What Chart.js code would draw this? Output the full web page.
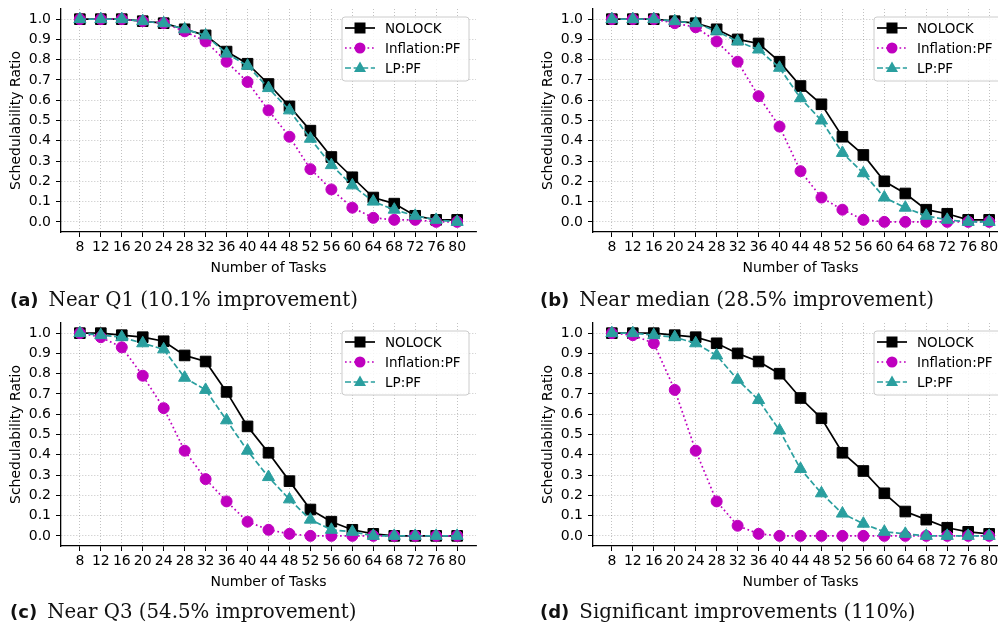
<!DOCTYPE html>
<html lang="en">
<head>
    <meta charset="UTF-8">
    <title>Schedulability Ratio</title>
    <script src="https://cdn.jsdelivr.net/npm/chart.js"></script>
    <style>
        body {
            margin: 0;
            padding: 0;
            width: 998px;
            height: 631px;
            overflow: hidden;
            background: #fff;
            position: relative;
        }
        .panel {
            position: absolute;
            width: 500px;
            height: 290px;
        }
        .caption {
            position: absolute;
            font-family: "DejaVu Serif", serif;
            font-size: 19.8px;
            color: #111;
            white-space: nowrap;
            line-height: 24px;
        }
        .caption b {
            font-family: "DejaVu Sans", sans-serif;
            font-size: 18px;
            font-weight: bold;
            margin-right: 10px;
        }
    </style>
</head>
<body>
    <canvas id="chartA" class="panel" width="500" height="290" style="left:0;top:0"></canvas>
    <canvas id="chartB" class="panel" width="500" height="290" style="left:532px;top:0"></canvas>
    <canvas id="chartC" class="panel" width="500" height="290" style="left:0;top:314px"></canvas>
    <canvas id="chartD" class="panel" width="500" height="290" style="left:532px;top:314px"></canvas>

    <div class="caption" style="left:10px;top:288px"><b>(a)</b>Near Q1 (10.1% improvement)</div>
    <div class="caption" style="left:540px;top:288px"><b>(b)</b>Near median (28.5% improvement)</div>
    <div class="caption" style="left:10px;top:600px"><b>(c)</b>Near Q3 (54.5% improvement)</div>
    <div class="caption" style="left:540px;top:600px"><b>(d)</b>Significant improvements (110%)</div>

<script>
const taskCounts = [8, 12, 16, 20, 24, 28, 32, 36, 40, 44, 48, 52, 56, 60, 64, 68, 72, 76, 80];
const yTicks = [0, 0.1, 0.2, 0.3, 0.4, 0.5, 0.6, 0.7, 0.8, 0.9, 1.0];
const seriesNames = ['NOLOCK', 'Inflation:PF', 'LP:PF'];

// (a) near Q1
const nolockA    = [1.0, 1.0, 1.0, 0.99, 0.98, 0.95, 0.92, 0.84, 0.78, 0.68, 0.57, 0.45, 0.32, 0.22, 0.12, 0.09, 0.03, 0.01, 0.01];
const inflationA = [1.0, 1.0, 1.0, 0.99, 0.98, 0.94, 0.89, 0.79, 0.69, 0.55, 0.42, 0.26, 0.16, 0.07, 0.02, 0.01, 0.01, 0.0, 0.0];
const lpA        = [1.0, 1.0, 1.0, 0.99, 0.98, 0.95, 0.92, 0.83, 0.77, 0.66, 0.55, 0.41, 0.28, 0.18, 0.10, 0.06, 0.03, 0.01, 0.0];

// (b) near median
const nolockB    = [1.0, 1.0, 1.0, 0.99, 0.98, 0.95, 0.90, 0.88, 0.79, 0.67, 0.58, 0.42, 0.33, 0.20, 0.14, 0.06, 0.04, 0.01, 0.01];
const inflationB = [1.0, 1.0, 1.0, 0.98, 0.96, 0.89, 0.79, 0.62, 0.47, 0.25, 0.12, 0.06, 0.01, 0.0, 0.0, 0.0, 0.0, 0.0, 0.0];
const lpB        = [1.0, 1.0, 1.0, 0.99, 0.98, 0.94, 0.89, 0.85, 0.76, 0.61, 0.50, 0.34, 0.24, 0.12, 0.07, 0.03, 0.01, 0.0, 0.0];

// (c) near Q3
const nolockC    = [1.0, 1.0, 0.99, 0.98, 0.96, 0.89, 0.86, 0.71, 0.54, 0.41, 0.27, 0.13, 0.07, 0.03, 0.01, 0.0, 0.0, 0.0, 0.0];
const inflationC = [1.0, 0.98, 0.93, 0.79, 0.63, 0.42, 0.28, 0.17, 0.07, 0.03, 0.01, 0.0, 0.0, 0.0, 0.0, 0.0, 0.0, 0.0, 0.0];
const lpC        = [1.0, 0.99, 0.98, 0.95, 0.92, 0.78, 0.72, 0.57, 0.42, 0.29, 0.18, 0.08, 0.03, 0.02, 0.0, 0.0, 0.0, 0.0, 0.0];

// (d) significant improvements
const nolockD    = [1.0, 1.0, 1.0, 0.99, 0.98, 0.95, 0.90, 0.86, 0.80, 0.68, 0.58, 0.41, 0.32, 0.21, 0.12, 0.08, 0.04, 0.02, 0.01];
const inflationD = [1.0, 0.99, 0.95, 0.72, 0.42, 0.17, 0.05, 0.01, 0.0, 0.0, 0.0, 0.0, 0.0, 0.0, 0.0, 0.0, 0.0, 0.0, 0.0];
const lpD        = [1.0, 1.0, 0.99, 0.98, 0.95, 0.89, 0.77, 0.67, 0.52, 0.33, 0.21, 0.11, 0.06, 0.02, 0.01, 0.0, 0.0, 0.0, 0.0];

const FONT = "'DejaVu Sans', sans-serif";
const TEAL = '#2a9f9f';
const MAGENTA = '#bf00bf';

function toPoints(values) {
  return taskCounts.map((x, i) => ({ x: x, y: values[i] }));
}

// matplotlib style legend box in the upper right corner
const legendBox = {
  id: 'legendBox',
  afterDatasetsDraw(chart) {
    const { ctx, chartArea } = chart;
    const w = 127, h = 64;
    const bx = chartArea.right - 7 - w;
    const by = chartArea.top + 8;
    ctx.save();
    ctx.beginPath();
    ctx.roundRect(bx, by, w, h, 3);
    ctx.fillStyle = 'rgba(255,255,255,0.85)';
    ctx.fill();
    ctx.strokeStyle = '#cccccc';
    ctx.lineWidth = 1;
    ctx.stroke();

    chart.data.datasets.forEach((ds, i) => {
      const ly = by + 11 + i * 20;
      ctx.beginPath();
      ctx.setLineDash(ds.borderDash || []);
      ctx.strokeStyle = ds.borderColor;
      ctx.lineWidth = ds.borderWidth;
      ctx.moveTo(bx + 3, ly);
      ctx.lineTo(bx + 33, ly);
      ctx.stroke();
      ctx.setLineDash([]);

      const mx = bx + 18;
      ctx.fillStyle = ds.pointBackgroundColor;
      ctx.beginPath();
      if (ds.pointStyle === 'rect') {
        ctx.rect(mx - 5.5, ly - 5.5, 11, 11);
      } else if (ds.pointStyle === 'circle') {
        ctx.arc(mx, ly, 5.5, 0, Math.PI * 2);
      } else {
        ctx.moveTo(mx, ly - 6.5);
        ctx.lineTo(mx + 6, ly + 4);
        ctx.lineTo(mx - 6, ly + 4);
        ctx.closePath();
      }
      ctx.fill();

      ctx.fillStyle = '#000';
      ctx.font = '13.5px ' + FONT;
      ctx.textBaseline = 'middle';
      ctx.textAlign = 'left';
      ctx.fillText(ds.label, bx + 43, ly + 1);
    });
    ctx.restore();
  }
};

const gridOpts = {
  color: 'rgba(0,0,0,0.3)',
  lineWidth: 0.8,
  tickColor: '#000',
  tickBorderDash: [],
  tickWidth: 1,
  tickLength: 5
};
const borderOpts = { display: true, color: '#000', width: 1.3, dash: [1, 2] };

function makePanel(id, nolock, inflation, lp) {
  const ctx = document.getElementById(id).getContext('2d');
  return new Chart(ctx, {
    type: 'line',
    data: {
      datasets: [
        {
          label: seriesNames[0],
          data: toPoints(nolock),
          borderColor: '#000',
          backgroundColor: '#000',
          pointBackgroundColor: '#000',
          pointBorderColor: '#000',
          borderWidth: 1.7,
          pointStyle: 'rect',
          pointRadius: 7.5,
          pointBorderWidth: 1,
          order: 3
        },
        {
          label: seriesNames[1],
          data: toPoints(inflation),
          borderColor: MAGENTA,
          backgroundColor: MAGENTA,
          pointBackgroundColor: MAGENTA,
          pointBorderColor: MAGENTA,
          borderWidth: 1.7,
          borderDash: [1.7, 2.8],
          pointStyle: 'circle',
          pointRadius: 5.5,
          pointBorderWidth: 1,
          order: 2
        },
        {
          label: seriesNames[2],
          data: toPoints(lp),
          borderColor: TEAL,
          backgroundColor: TEAL,
          pointBackgroundColor: TEAL,
          pointBorderColor: TEAL,
          borderWidth: 1.7,
          borderDash: [6, 2.6],
          pointStyle: 'triangle',
          pointRadius: 7,
          pointBorderWidth: 1,
          order: 1
        }
      ]
    },
    options: {
      responsive: false,
      animation: false,
      devicePixelRatio: 1,
      layout: {
        padding: { left: 4, top: 9, right: 24, bottom: 10 }
      },
      plugins: {
        legend: { display: false },
        tooltip: { enabled: false }
      },
      scales: {
        x: {
          type: 'linear',
          min: 4.4,
          max: 83.6,
          afterBuildTicks: (scale) => {
            scale.ticks = taskCounts.map(v => ({ value: v }));
          },
          afterFit: (scale) => {
            scale.height = 48;
            scale.paddingLeft = 0;
            scale.paddingRight = 0;
          },
          ticks: {
            autoSkip: false,
            maxRotation: 0,
            padding: 2,
            color: '#000',
            font: { family: FONT, size: 14 },
            callback: (v) => String(v)
          },
          grid: gridOpts,
          border: borderOpts,
          title: {
            display: true,
            text: 'Number of Tasks',
            color: '#000',
            font: { family: FONT, size: 14 },
            padding: { top: 4, bottom: 3 }
          }
        },
        y: {
          type: 'linear',
          min: -0.05,
          max: 1.05,
          afterBuildTicks: (scale) => {
            scale.ticks = yTicks.map(v => ({ value: v }));
          },
          afterFit: (scale) => {
            scale.width = 57;
            scale.paddingTop = 0;
            scale.paddingBottom = 0;
          },
          ticks: {
            padding: 5,
            color: '#000',
            font: { family: FONT, size: 14 },
            callback: (v) => Number(v).toFixed(1)
          },
          grid: gridOpts,
          border: borderOpts,
          title: {
            display: true,
            text: 'Schedulability Ratio',
            color: '#000',
            font: { family: FONT, size: 14 },
            padding: { top: 4, bottom: 4 }
          }
        }
      }
    },
    plugins: [legendBox]
  });
}

makePanel('chartA', nolockA, inflationA, lpA);
makePanel('chartB', nolockB, inflationB, lpB);
makePanel('chartC', nolockC, inflationC, lpC);
makePanel('chartD', nolockD, inflationD, lpD);
</script>
</body>
</html>
